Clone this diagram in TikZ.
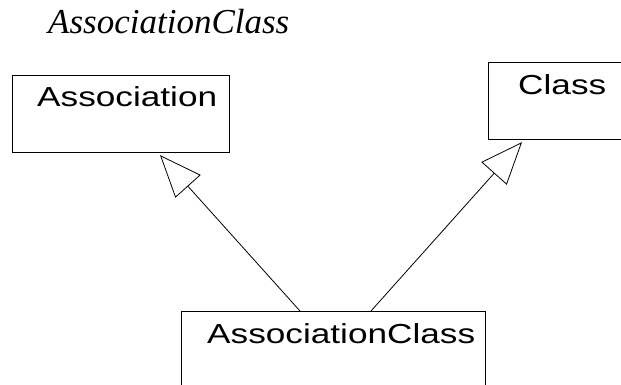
\documentclass[tikz,border=0pt]{standalone}
\usepackage{fontspec}
\setmainfont{Liberation Serif}
\newfontfamily\boxfont[FakeStretch=1.28]{Liberation Sans}
\usetikzlibrary{arrows.meta,calc}
\begin{document}
\begin{tikzpicture}[x=1pt,y=-1pt,
  umlbox/.style={draw=black, line width=0.9pt, rectangle, anchor=north west, inner sep=0pt},
  boxname/.style={font=\boxfont\fontsize{27.5}{30}\selectfont, anchor=base west, inner sep=0pt},
  generalizes/.style={draw=black, line width=0.8pt,
    -{Triangle[open, length=42pt, width=34pt, line width=0.8pt]}, shorten >=3pt},
]
\clip (0,0) rectangle (621,385);

% heading
\node[anchor=base west, inner sep=0pt, font=\itshape\fontsize{35}{40}\selectfont] (title) at (48,34) {AssociationClass};

% class boxes (Class and AssociationClass run off the page edge)
\node[umlbox, minimum width=217pt, minimum height=77pt] (assoc) at (12,75) {};
\node[umlbox, minimum width=160pt, minimum height=76.5pt] (cls) at (488,62.5) {};
\node[umlbox, minimum width=304pt, minimum height=100pt] (acbox) at (181,311) {};

% class names
\node[boxname] (assocname) at (37,107) {Association};
\node[boxname] (clsname) at (518,95) {Class};
\node[boxname] (acname) at (207,343) {AssociationClass};

% generalization connectors
\coordinate (acleft) at ($(acbox.north west)+(119,0)$);
\coordinate (acright) at ($(acbox.north west)+(190,0)$);
\coordinate (assoctip) at ($(assoc.south west)+(146,0)$);
\coordinate (clstip) at ($(cls.south west)+(36,0)$);
\draw[generalizes] (acleft) -- (assoctip);
\draw[generalizes] (acright) -- (clstip);
\end{tikzpicture}
\end{document}
